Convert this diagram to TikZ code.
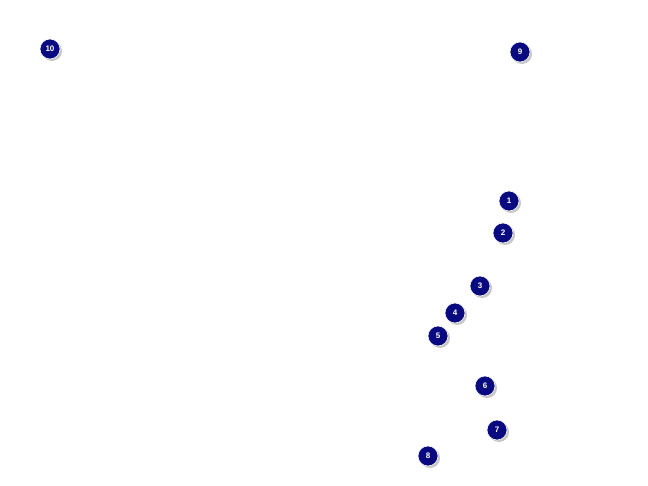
\documentclass[tikz,border=0pt]{standalone}
\usepackage{fontspec}
\setmainfont{Liberation Sans}
\definecolor{navy}{HTML}{0A0A80}
\begin{document}
\begin{tikzpicture}[x=1pt,y=-1pt,
  num/.style={circle,fill=navy,draw=white,line width=0.6pt,minimum size=20pt,inner sep=0pt,text=white,font=\bfseries\fontsize{8}{9}\selectfont}]
\useasboundingbox (0,0) rectangle (648,486);
\foreach \n/\x/\y in {10/50/49,9/520/52,1/509/201,2/503/233,3/480/286,4/455/313,5/438/336,6/485/386,7/497/430,8/428/456}{
  \fill[gray!45] (\x+2,\y+2) circle (10);
  \node[num] (n\n) at (\x,\y) {\n};
}
\end{tikzpicture}
\end{document}
